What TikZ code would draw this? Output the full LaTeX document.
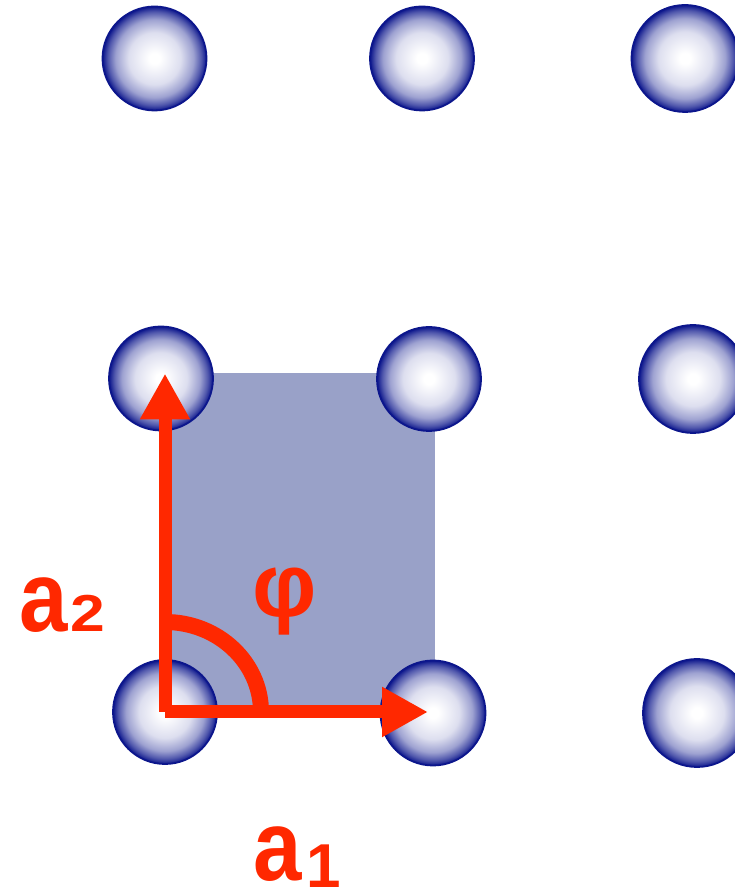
\documentclass[tikz,border=0pt]{standalone}
\usepackage{fontspec}
\setmainfont{Liberation Sans}
\definecolor{atom}{RGB}{12,22,140}
\definecolor{cell}{RGB}{153,161,200}
\definecolor{vecred}{RGB}{255,40,0}
\usetikzlibrary{arrows.meta,calc}
\pgfdeclareradialshading{atomball}{\pgfpointorigin}{color(0bp)=(white); color(2.5bp)=(white); color(12.5bp)=(atom!14!white); color(18.75bp)=(atom!40!white); color(22.5bp)=(atom!72!white); color(25bp)=(atom); color(50bp)=(atom)}
\newcommand{\bigA}{\fontsize{100}{100}\selectfont\scalebox{0.87}[1]{a}}

\begin{document}
\begin{tikzpicture}[x=1pt,y=1pt,
    atomdot/.style={circle,draw=atom,line width=1.8pt,shading=atomball,inner sep=0pt,minimum size=#1},
    vec/.style={vecred,line width=13pt,-{Triangle[length=46pt,width=47pt]}},
    lbl/.style={vecred,inner sep=0pt,font=\bfseries}]
        \useasboundingbox (0,0) rectangle (734,888);
        \fill[cell] (165,176) rectangle (435,515);
        \foreach \n/\x/\y/\d in {p02/154.5/829.5/104, p12/422/829.5/104, p22/685/829.5/107,
            p01/161/509.5/104, p11/429/509/104, p21/693/509/108,
            p00/165/176/104, p10/433/175/105, p20/697/175/108}
          \node[atomdot=\d pt] (\n) at (\x,\y) {};
        \draw[vec] (p00.center) -- ($(p00.center -| p10.center)+(-5,0)$);
        \draw[vec] (p00.center) -- ($(p00.center |- p01.center)+(0,5)$);
        \draw[vecred,line width=16pt] ($(p00.center)+(96pt,0)$) arc[start angle=0,end angle=90,x radius=96pt,y radius=90pt];
        \node[lbl] (phi) at (285,286) {\fontsize{90}{90}\selectfont φ};
        \node[lbl,anchor=base west] (a2) at (19,256) {\bigA\hspace{3pt}\fontsize{52}{52}\selectfont\scalebox{1.2}[1]{2}};
        \node[lbl,anchor=base west] (a1) at (253,7) {\bigA\hspace{5pt}\fontsize{62}{62}\selectfont\raisebox{-6pt}{1}};
      \end{tikzpicture}
\end{document}
